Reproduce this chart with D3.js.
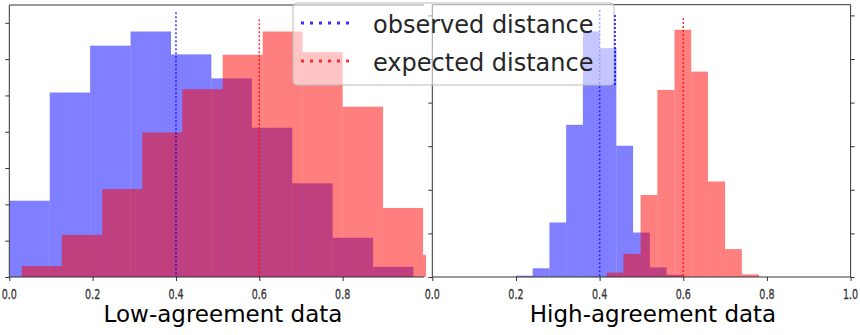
<!DOCTYPE html>
<html>
<head>
<meta charset="utf-8">
<script src="https://cdn.jsdelivr.net/npm/d3@7"></script>
<style>
  body { margin: 0; background: #fff; }
  svg { display: block; font-family: "DejaVu Sans", sans-serif; }
</style>
</head>
<body>
<svg id="chart" width="860" height="335"></svg>
<script>
// low-agreement data: bin edges + heights (y units = one tick)
const lowObservedEdges = [0.000, 0.097, 0.194, 0.291, 0.388, 0.485, 0.582, 0.679, 0.776, 0.873, 0.970];
const lowObservedCounts = [2.10, 5.08, 6.37, 6.76, 6.13, 5.47, 4.11, 2.58, 1.08, 0.28];
const lowExpectedEdges = [0.030, 0.126, 0.223, 0.319, 0.415, 0.512, 0.608, 0.704, 0.800, 0.897, 0.993, 1.089];
const lowExpectedCounts = [0.30, 1.16, 2.42, 3.98, 5.17, 6.12, 6.76, 6.19, 4.69, 1.90, 0.61];

// high-agreement data
const highObservedEdges = [0.20, 0.24, 0.28, 0.32, 0.36, 0.40, 0.44, 0.48, 0.52, 0.56, 0.60];
const highObservedCounts = [0.03, 0.20, 1.25, 3.49, 5.63, 5.25, 3.01, 1.02, 0.22, 0.05];
const highExpectedEdges = [0.417, 0.457, 0.498, 0.538, 0.579, 0.619, 0.659, 0.700, 0.740, 0.781];
const highExpectedCounts = [0.10, 0.53, 1.88, 4.29, 5.67, 4.71, 2.19, 0.64, 0.06];

// mean lines [observed, expected] and how high they reach (y units)
const meanLines = [0.4, 0.6];
const lowLineTops = [7.29, 7.10];
const highLineTops = [6.12, 5.94];

const lowXTicks = [0, 0.2, 0.4, 0.6, 0.8];
const highXTicks = [0, 0.2, 0.4, 0.6, 0.8, 1.0];
const lowYTicks = [0, 1, 2, 3, 4, 5, 6, 7];
const highYTicks = [0, 1, 2, 3, 4, 5, 6];

const legendLabels = ["observed distance", "expected distance"];
const panelTitles = ["Low-agreement data", "High-agreement data"];

const colors = ["blue", "red"];

const svg = d3.select("#chart");
const bottom = 277;

function toBins(edges, counts) {
    return counts.map((n, i) => ({x0: edges[i], x1: edges[i + 1], n: n}));
}

function drawPanel(cfg) {
    const x = d3.scaleLinear().domain([0, 1]).range([cfg.left, cfg.right]);
    const y = d3.scaleLinear().domain([0, cfg.yMax]).range([bottom, cfg.top]);

    const g = svg.append("g");

    // white backing (right panel sits over the left one)
    g.append("rect")
        .attr("x", cfg.bgLeft).attr("y", 0)
        .attr("width", cfg.bgRight - cfg.bgLeft).attr("height", 335)
        .attr("fill", "#fff");

    const clipId = "clip" + cfg.id;
    g.append("clipPath").attr("id", clipId)
        .append("rect")
        .attr("x", cfg.left).attr("y", cfg.top)
        .attr("width", cfg.clipRight - cfg.left).attr("height", bottom - cfg.top);

    const plot = g.append("g").attr("clip-path", `url(#${clipId})`);

    cfg.series.forEach((bins, i) => {
        plot.append("g")
            .selectAll("rect")
            .data(bins)
            .join("rect")
            .attr("x", d => x(d.x0))
            .attr("width", d => x(d.x1) - x(d.x0))
            .attr("y", d => y(d.n))
            .attr("height", d => y(0) - y(d.n))
            .attr("fill", colors[i])
            .attr("fill-opacity", 0.5);
    });

    plot.selectAll(".mean")
        .data(meanLines)
        .join("line")
        .attr("class", "mean")
        .attr("x1", d => x(d)).attr("x2", d => x(d))
        .attr("y1", (d, i) => y(cfg.lineTops[i]))
        .attr("y2", bottom)
        .attr("stroke", (d, i) => colors[i])
        .attr("stroke-opacity", 0.8)
        .attr("stroke-width", 1.5)
        .attr("stroke-dasharray", "2,2");

    // axes (tick marks from d3, labels drawn below so they can be squeezed)
    const gx = g.append("g")
        .attr("transform", `translate(0,${bottom})`)
        .call(d3.axisBottom(x).tickValues(cfg.xTicks).tickFormat("").tickSize(4).tickSizeOuter(0));
    gx.select(".domain").remove();
    gx.selectAll("line").attr("stroke", "#333");

    g.selectAll(".xlabel")
        .data(cfg.xTicks)
        .join("text")
        .attr("class", "xlabel")
        .attr("transform", d => `translate(${x(d)},298.5) scale(0.66,1)`)
        .attr("text-anchor", "middle")
        .attr("font-size", 14.5)
        .attr("fill", "#333")
        .attr("stroke", "#333")
        .attr("stroke-width", 0.3)
        .text(d3.format(".1f"));

    const gy = g.append("g")
        .attr("transform", `translate(${cfg.left},0)`)
        .call(d3.axisLeft(y).tickValues(cfg.yTicks).tickFormat("").tickSize(4).tickSizeOuter(0));
    gy.select(".domain").remove();
    gy.selectAll("line").attr("stroke", "#333");

    if (cfg.rightTicks) {
        const gr = g.append("g")
            .attr("transform", `translate(${cfg.right},0)`)
            .call(d3.axisRight(y).tickValues(cfg.yTicks).tickFormat("").tickSize(4).tickSizeOuter(0));
        gr.select(".domain").remove();
        gr.selectAll("line").attr("stroke", "#333");
    }

    // spines
    const spines = [
        [cfg.left, cfg.top, cfg.left, bottom],
        [cfg.left, bottom, cfg.spineRight, bottom],
        [cfg.left, cfg.top, cfg.spineRight, cfg.top]
    ];
    if (cfg.rightSpine) spines.push([cfg.right, cfg.top, cfg.right, bottom]);
    g.selectAll(".spine")
        .data(spines)
        .join("line")
        .attr("class", "spine")
        .attr("x1", d => d[0]).attr("y1", d => d[1])
        .attr("x2", d => d[2]).attr("y2", d => d[3])
        .attr("stroke", "#333")
        .attr("stroke-width", 1);

    g.append("text")
        .attr("x", cfg.titleX)
        .attr("y", 322)
        .attr("text-anchor", "middle")
        .attr("font-size", 23)
        .attr("fill", "#000")
        .text(cfg.title);

    return x;
}

drawPanel({
    id: "low", left: 9.3, right: 426, clipRight: 426, spineRight: 424,
    bgLeft: 0, bgRight: 427, top: 5, yMax: 7.49,
    series: [toBins(lowObservedEdges, lowObservedCounts), toBins(lowExpectedEdges, lowExpectedCounts)],
    lineTops: lowLineTops, xTicks: lowXTicks, yTicks: lowYTicks,
    rightTicks: false, rightSpine: false,
    title: panelTitles[0], titleX: 223
});

drawPanel({
    id: "high", left: 432.3, right: 850.6, clipRight: 850.6, spineRight: 850.6,
    bgLeft: 427, bgRight: 860, top: 4.7, yMax: 6.245,
    series: [toBins(highObservedEdges, highObservedCounts), toBins(highExpectedEdges, highExpectedCounts)],
    lineTops: highLineTops, xTicks: highXTicks, yTicks: highYTicks,
    rightTicks: true, rightSpine: true,
    title: panelTitles[1], titleX: 653
});

// legend, drawn over both panels
const legend = svg.append("g").attr("transform", "translate(293,3)");
legend.append("rect")
    .attr("width", 321).attr("height", 82)
    .attr("rx", 4)
    .attr("fill", "#fff").attr("fill-opacity", 0.55)
    .attr("stroke", "#bbb");
// stray dotted edge seen along the legend's right side
legend.append("line")
    .attr("x1", 322).attr("x2", 322)
    .attr("y1", 12).attr("y2", 82)
    .attr("stroke", colors[0]).attr("stroke-width", 1.5)
    .attr("stroke-dasharray", "2,2");

const rows = legend.selectAll(".row")
    .data(legendLabels)
    .join("g")
    .attr("class", "row")
    .attr("transform", (d, i) => `translate(0,${20 + i * 38})`);
rows.append("line")
    .attr("x1", 8).attr("x2", 57)
    .attr("stroke", (d, i) => colors[i])
    .attr("stroke-opacity", 0.8)
    .attr("stroke-width", 3)
    .attr("stroke-dasharray", "3,6");
rows.append("text")
    .attr("x", 80)
    .attr("y", 10)
    .attr("font-size", 24)
    .attr("fill", "#262626")
    .text(d => d);
</script>
</body>
</html>
